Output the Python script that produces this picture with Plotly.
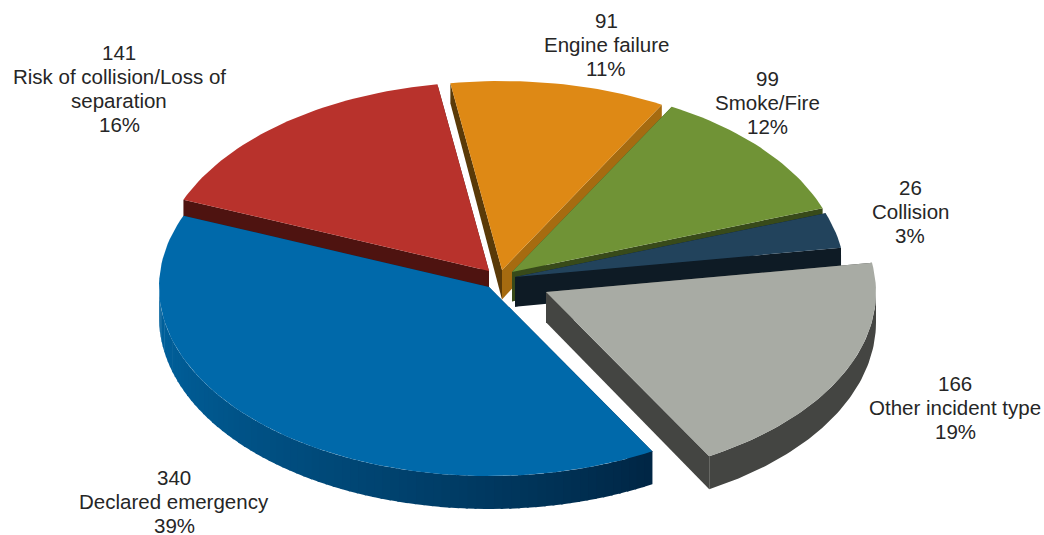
import math
import plotly.graph_objects as go

categories = ["Engine failure", "Smoke/Fire", "Collision", "Other incident type", "Declared emergency", "Risk of collision/Loss of<br>separation"]
values = [91, 99, 26, 166, 340, 141]
percents = ["11%", "12%", "3%", "19%", "39%", "16%"]

tops = ["#DE8915", "#709336", "#22435C", "#A8ABA4", "#0069AA", "#B8322C"]
start_walls = ["#5A3A08", "#384A1A", "#0E1B25", "#444542", "#01294A", "#4E1310"]
end_walls = ["#A66B10", "#384A1A", "#0E1B25", "#444542", "#01294A", "#4E1310"]
apexes = [(502, 270), (512, 272), (515, 277), (546, 292), (489, 287), (489, 271)]
label_pos = [(606, 44), (767, 102), (910, 211), (955, 407), (174, 501), (119, 88)]
draw_order = [5, 4, 0, 1, 2, 3]

RX, RY = 330, 189
START_DEG = -9.0
LINE_STEP = 24
total = sum(values)

spans = []
a = START_DEG
for v in values:
    b = a + v / total * 360
    spans.append((a, b))
    a = b


def pt(i, deg):
    cx, cy = apexes[i]
    t = math.radians(deg)
    return cx + RX * math.sin(t), cy - RY * math.cos(t)


def wall(y):
    return 33 - 13 * (max(476 - y, 0) / 393) ** 2


def lerp_color(c1, c2, f):
    return "rgb(%d,%d,%d)" % tuple(c1[k] + (c2[k] - c1[k]) * f for k in range(3))


fig = go.Figure()


def poly(pts, color, edge=0.0):
    xs = [p[0] for p in pts] + [pts[0][0]]
    ys = [p[1] for p in pts] + [pts[0][1]]
    fig.add_trace(go.Scatter(
        x=xs, y=ys, mode="lines", fill="toself", fillcolor=color,
        line=dict(color=color, width=edge), hoverinfo="skip", showlegend=False))


for i in draw_order:
    a0, a1 = spans[i]
    ax, ay = apexes[i]
    apex = (ax, ay)
    # radial walls
    for deg, col in ((a0, start_walls[i]), (a1, end_walls[i])):
        p = pt(i, deg)
        poly([apex, p, (p[0], p[1] + wall(p[1])), (ax, ay + wall(ay))], col)
    # outer wall on the near half
    lo, hi = max(a0, 90), min(a1, 270)
    if hi > lo:
        if categories[i] == "Declared emergency":
            n = int((hi - lo) / 1.5)
            for k in range(n):
                d0 = lo + (hi - lo) * k / n
                d1 = lo + (hi - lo) * (k + 1.25) / n
                p0, p1 = pt(i, d0), pt(i, min(d1, hi))
                f = (270 - (d0 + d1) / 2) / (270 - 150)
                col = lerp_color((0, 98, 158), (1, 38, 68), min(f, 1) ** 1.3)
                poly([p0, p1, (p1[0], p1[1] + wall(p1[1])), (p0[0], p0[1] + wall(p0[1]))], col)
        else:
            n = int(hi - lo)
            degs = [lo + (hi - lo) * k / n for k in range(n + 1)]
            upper = [pt(i, d) for d in degs]
            lower = [(x, y + wall(y)) for x, y in upper][::-1]
            poly(upper + lower, start_walls[i])
    # top face
    n = max(4, int((a1 - a0) / 1.5))
    arc = [pt(i, a0 + (a1 - a0) * k / n) for k in range(n + 1)]
    poly([apex] + arc, tops[i])

for v, c, p, (x, y) in zip(values, categories, percents, label_pos):
    lines = [str(v)] + c.split("<br>") + [p]
    top = y - LINE_STEP * (len(lines) - 1) / 2
    for k, line in enumerate(lines):
        fig.add_annotation(
            x=x, y=top + k * LINE_STEP, xref="x", yref="y", text=line, showarrow=False,
            align="center", xanchor="center", yanchor="middle",
            font=dict(family="Liberation Sans, Arial, sans-serif", size=20.5, color="#262626"))

fig.update_layout(
    width=1044, height=535, margin=dict(l=0, r=0, t=0, b=0),
    paper_bgcolor="white", plot_bgcolor="white", showlegend=False,
    xaxis=dict(range=[0, 1044], visible=False, fixedrange=True),
    yaxis=dict(range=[535, 0], visible=False, fixedrange=True))

fig.write_html("out.html", config={"displayModeBar": False},
               post_script="document.body.style.margin='0';document.documentElement.style.overflow='hidden';")
